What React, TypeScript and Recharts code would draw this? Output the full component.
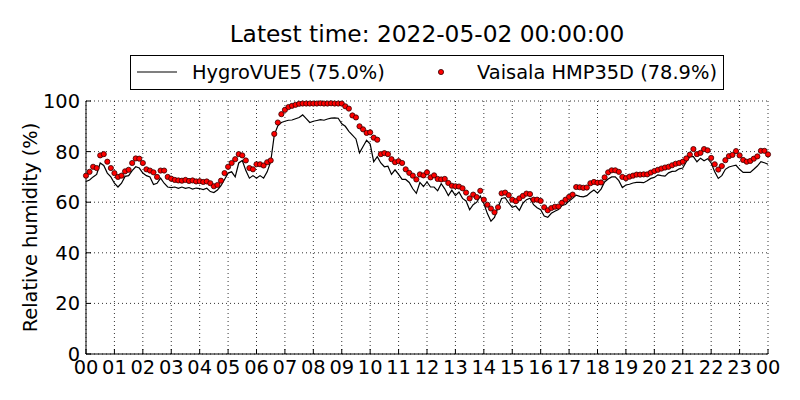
import React from "react";
import {
  ComposedChart,
  Line,
  Scatter,
  XAxis,
  YAxis,
  CartesianGrid,
  Legend,
} from "recharts";

// relative humidity (%) every 7.5 minutes, 00:00 -> 24:00
const hygroVue = [
  68.2, 68.8, 70, 71, 75.5, 74.5, 71.5, 70,
  67.5, 66, 67.5, 70.2, 70.5, 72.5, 74, 73.5,
  71.5, 70.5, 70, 67, 67.5, 69.5, 67.5, 66,
  65.8, 66, 65.5, 66, 65.5, 65.8, 65.2, 65.6,
  65.4, 65, 65.5, 64.2, 63.8, 64.8, 66.5, 69,
  71.5, 72, 70, 75.5, 76.5, 72.5, 69.5, 70.5,
  69.5, 70.5, 69.5, 72, 76, 86.5, 90.2, 91.5,
  92, 92.4, 92.5, 93, 93.5, 94.5, 93, 91.5,
  92, 92.3, 92.6, 92.4, 92.9, 93.2, 93.3, 93.2,
  91, 90, 88, 86.5, 85, 79.5, 82, 84.5,
  83, 76, 78, 75.5, 74, 74.2, 71, 72.8,
  71, 69, 69, 67.8, 65.3, 63.5, 67.8, 66.2,
  68, 66, 66, 64.5, 67.3, 65.3, 62.6, 64.8,
  62.6, 64, 61.5, 60.5, 57, 59, 60, 62.4,
  59.5, 55.5, 52.5, 54, 58, 61.5, 61.8, 59.7,
  58, 58.5, 56.8, 59.6, 61, 61.6, 59, 57.8,
  57, 54.5, 54, 55.6, 56.4, 57.1, 58.7, 59.1,
  60.5, 61.5, 62.8, 62.3, 62.1, 62.6, 63.8, 64.8,
  63.6, 65.2, 68, 69.2, 70, 70, 68.5, 65.8,
  66.8, 67.1, 67.6, 67.8, 67.8, 67.7, 68.5, 69.4,
  69.8, 70.8, 70.5, 70.3, 71.6, 72.2, 72.3, 73.2,
  73.5, 76, 78, 78, 76, 77.4, 76.4, 77.2,
  75.5, 72, 69.4, 70.5, 73, 73.9, 74.3, 74.6,
  73, 71.8, 71.8, 71.8, 73, 74.3, 76, 75.6,
  75,
];

const vaisala = [
  70.5, 72, 74, 73.5, 78.5, 79, 76, 73.5,
  71.5, 70, 70.5, 72.2, 72.8, 75.5, 77.3, 77.2,
  75.5, 73, 72.5, 71.8, 70, 72.5, 72.5, 70,
  69.3, 68.8, 68.6, 68.5, 68.8, 68.4, 68.6, 68.2,
  68.3, 68, 68.2, 67.5, 66.3, 66.8, 68.5, 71.5,
  74, 75.5, 77, 79, 78.5, 76.5, 73.5, 73,
  75, 75, 74.5, 75.8, 76.5, 87, 91.5, 94.8,
  96.5, 97.6, 98.1, 98.5, 98.9, 99, 99, 99,
  99, 99, 99.1, 99, 99, 99.1, 99, 99,
  99, 97.9, 97, 94.3, 93.5, 90, 88.8, 87.4,
  87.6, 85.5, 84.7, 79, 79.4, 79, 77, 75.8,
  76.2, 75.5, 73, 71.6, 70.5, 69, 71, 70.6,
  71.8, 69.8, 70.6, 69.2, 69, 69.2, 67.6, 66.5,
  66.3, 66.2, 65.5, 63.8, 61.5, 63, 62, 64.5,
  61, 59, 57.5, 56, 58, 63.5, 63.8, 62.8,
  61, 60.4, 61.5, 62.5, 63.4, 63.2, 61, 61,
  60.5, 58, 56.8, 57.7, 58.2, 58.3, 59.8, 61,
  62.1, 63, 66, 65.9, 65.7, 65.8, 67.5, 68,
  67.7, 67.8, 69.8, 71.8, 72.6, 72.6, 72, 70,
  69.5, 70.1, 70.5, 70.9, 70.9, 71, 71, 71.7,
  72.3, 72.8, 73.3, 73.7, 74, 74.6, 75.2, 75.5,
  76, 77.3, 78.8, 81, 79, 79.5, 81, 80.5,
  77.5, 75, 72.9, 74.3, 76.6, 78.2, 78.7, 80.2,
  78.5, 76.7, 76, 76.3, 77.2, 78.1, 80.3, 80.3,
  78.9,
];

const hourTicks = [
  0, 1, 2, 3, 4, 5, 6, 7, 8, 9, 10, 11, 12, 13, 14, 15, 16, 17, 18, 19, 20,
  21, 22, 23, 24,
];
const rhTicks = [0, 20, 40, 60, 80, 100];

const title = "Latest time: 2022-05-02 00:00:00";
const hygroName = "HygroVUE5 (75.0%)";
const vaisalaName = "Vaisala HMP35D (78.9%)";

const data = hygroVue.map((h, i) => ({
  t: (i * 7.5) / 60,
  h,
  v: vaisala[i],
}));

const FONT = "DejaVu Sans, sans-serif";
const hourLabel = (h: number) => String(h % 24).padStart(2, "0");

const BottomTick = (props: any) => {
  const { x, y, payload } = props;
  return (
    <g>
      <line x1={x} x2={x} y1={y} y2={y - 5} stroke="#000" />
      <text x={x} y={y + 20} textAnchor="middle" fontSize={19.4} fontFamily={FONT} fill="#000">
        {hourLabel(payload.value)}
      </text>
    </g>
  );
};

const TopTick = (props: any) => {
  const { x, y } = props;
  return <line x1={x} x2={x} y1={y} y2={y + 5} stroke="#000" />;
};

const LeftTick = (props: any) => {
  const { x, y, payload } = props;
  return (
    <g>
      <line x1={x} x2={x + 5} y1={y} y2={y} stroke="#000" />
      <text x={x - 6} y={y + 7} textAnchor="end" fontSize={19.4} fontFamily={FONT} fill="#000">
        {payload.value}
      </text>
    </g>
  );
};

const RightTick = (props: any) => {
  const { x, y } = props;
  return <line x1={x} x2={x - 5} y1={y} y2={y} stroke="#000" />;
};

const Dot = (props: any) => (
  <circle cx={props.cx} cy={props.cy} r={2.6} fill="#ff0000" stroke="#330000" strokeWidth={0.8} />
);

const LegendBox = () => (
  <svg width={594} height={35} style={{ display: "block" }}>
    <rect x={0.5} y={0.5} width={593} height={34} fill="#fff" stroke="#000" />
    <line x1={7} x2={47} y1={17} y2={17} stroke="#000" strokeWidth={1.2} />
    <text x={62} y={24} fontSize={19.4} fontFamily={FONT} fill="#000">
      {hygroName}
    </text>
    <circle cx={311} cy={17} r={2.6} fill="#ff0000" stroke="#330000" strokeWidth={0.8} />
    <text x={347} y={24} fontSize={19.4} fontFamily={FONT} fill="#000">
      {vaisalaName}
    </text>
  </svg>
);

export default function App() {
  return (
    <div style={{ position: "absolute", left: 0, top: 0, width: 800, height: 400, background: "#fff" }}>
      <div
        style={{
          position: "absolute",
          left: 0,
          top: 20,
          width: 854,
          textAlign: "center",
          fontFamily: FONT,
          fontSize: 23.3,
          lineHeight: "27px",
          color: "#000",
        }}
      >
        {title}
      </div>
      <ComposedChart
        width={800}
        height={400}
        data={data}
        margin={{ top: 101, right: 32, bottom: 0, left: 0 }}
      >
        <CartesianGrid stroke="#000" strokeDasharray="1 3" strokeWidth={0.8} />
        <XAxis
          dataKey="t"
          type="number"
          domain={[0, 24]}
          ticks={hourTicks}
          interval={0}
          height={46}
          tickSize={0}
          tickMargin={0}
          tickLine={false}
          axisLine={{ stroke: "#000" }}
          tick={BottomTick}
        />
        <XAxis
          xAxisId="top"
          orientation="top"
          dataKey="t"
          type="number"
          domain={[0, 24]}
          ticks={hourTicks}
          interval={0}
          height={0}
          tickSize={0}
          tickMargin={0}
          tickLine={false}
          axisLine={{ stroke: "#000" }}
          tick={TopTick}
        />
        <YAxis
          type="number"
          domain={[0, 100]}
          ticks={rhTicks}
          interval={0}
          width={86}
          tickSize={0}
          tickMargin={0}
          tickLine={false}
          axisLine={{ stroke: "#000" }}
          tick={LeftTick}
          label={{
            content: () => (
              <text
                x={30}
                y={227.5}
                transform="rotate(-90 30 227.5)"
                textAnchor="middle"
                dominantBaseline="central"
                fontSize={19.4}
                fontFamily={FONT}
                fill="#000"
              >
                Relative humidity (%)
              </text>
            ),
          }}
        />
        <YAxis
          yAxisId="right"
          orientation="right"
          type="number"
          domain={[0, 100]}
          ticks={rhTicks}
          interval={0}
          width={0}
          tickSize={0}
          tickMargin={0}
          tickLine={false}
          axisLine={{ stroke: "#000" }}
          tick={RightTick}
        />
        <Legend
          verticalAlign="middle"
          align="center"
          layout="horizontal"
          content={LegendBox}
          wrapperStyle={{ position: "absolute", left: 130, top: 55, width: 594, height: 35 }}
        />
        <Line
          name={hygroName}
          dataKey="h"
          type="linear"
          stroke="#000"
          strokeWidth={1.2}
          dot={false}
          activeDot={false}
          isAnimationActive={false}
        />
        <Scatter
          name={vaisalaName}
          dataKey="v"
          shape={Dot}
          isAnimationActive={false}
        />
      </ComposedChart>
    </div>
  );
}
